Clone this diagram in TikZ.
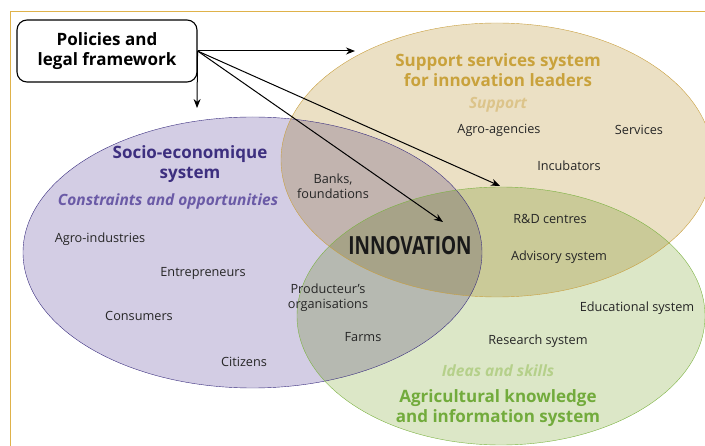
\documentclass[tikz,border=0pt]{standalone}
\usepackage{fontspec}
\setmainfont{Open Sans}
\newfontfamily\condfont{Open Sans}[FakeStretch=0.76]
\usetikzlibrary{arrows.meta}
\definecolor{framegold}{HTML}{DFB24A}
\definecolor{socfill}{HTML}{D3CDE4}
\definecolor{socline}{HTML}{3B2F80}
\definecolor{soctext}{HTML}{3D2F7F}
\definecolor{socsub}{HTML}{6A5AA6}
\definecolor{supfill}{HTML}{EBE0C4}
\definecolor{supline}{HTML}{C9A040}
\definecolor{suptext}{HTML}{C9A23C}
\definecolor{supsub}{HTML}{DCC48A}
\definecolor{akisfill}{HTML}{DCE7C7}
\definecolor{akisline}{HTML}{7CB342}
\definecolor{akistext}{HTML}{72AB3C}
\definecolor{akissub}{HTML}{B5D08A}
\tikzset{
  item/.style={font=\fontsize{12.7}{15}\selectfont,text=black!85,align=center},
  systitle/.style={font=\fontsize{17}{20.5}\selectfont\bfseries,align=center},
  syssub/.style={font=\fontsize{15.5}{18}\selectfont\bfseries\itshape},
}
\begin{document}
\begin{tikzpicture}[x=1pt,y=-1pt,>={Stealth[length=9pt,width=7pt]}]
            \useasboundingbox (0,0) rectangle (705,446);
            % frame
            \draw[framegold,line width=1pt](10,446)--(10,11.5)--(705,11.5);
            % the three systems
            \begin{scope}[blend group=multiply]
                \fill[socfill] (252.5,252.5) ellipse (229.5 and 135.5);
                \fill[supfill] (497,160) ellipse (216 and 137);
                \fill[akisfill] (501,316) ellipse (204 and 129);
            \end{scope}
            \draw[socline,thin] (252.5,252.5) ellipse (229.5 and 135.5);
            \draw[supline,thin] (497,160) ellipse (216 and 137);
            \draw[akisline,thin] (501,316) ellipse (204 and 129);
            % titles
            \node[systitle,text=suptext] (suptitle) at (498,70) {Support services system\\for innovation leaders};
            \node[syssub,text=supsub] (supsub) at (498,105) {Support};
            \node[systitle,text=soctext] (soctitle) at (190,164) {Socio-economique\\system};
            \node[syssub,text=socsub] (socsub) at (168,201) {Constraints and opportunities};
            \node[syssub,text=akissub] (akissub) at (498,371) {Ideas and skills};
            \node[systitle,text=akistext] (akistitle) at (498,408) {Agricultural knowledge\\and information system};
            % actors
            \node[item] (agroag) at (499,130) {Agro-agencies};
            \node[item] (serv) at (639,130) {Services};
            \node[item] (incub) at (569,166) {Incubators};
            \node[item] (banks) at (333,186) {Banks,\\foundations};
            \node[item] (agroind) at (100,239) {Agro-industries};
            \node[item] (entr) at (203,273) {Entrepreneurs};
            \node[item] (cons) at (139,316) {Consumers};
            \node[item] (citiz) at (244,362) {Citizens};
            \node[item] (rd) at (550,219) {R\&D centres};
            \node[item] (advis) at (559,257) {Advisory system};
            \node[item] (prod) at (328,298) {Producteur's\\organisations};
            \node[item] (farms) at (363,337) {Farms};
            \node[item] (educ) at (637,308) {Educational system};
            \node[item] (resea) at (538,341) {Research system};
            \node[font=\fontsize{25}{28}\selectfont\condfont\bfseries,text=black!90] (innov) at (410,246) {INNOVATION};
            % policies
            \node[draw,line width=1.1pt,rounded corners=10pt,minimum width=180pt,minimum height=62pt,
                font=\fontsize{17}{20.5}\selectfont\bfseries,align=center,inner sep=0pt] (pol) at (107,51) {Policies and\\legal framework};
            \coordinate (tosup) at (355,51);
            \coordinate (tosoc) at (197,108);
            \coordinate (toinn) at (443,222);
            \coordinate (toakis) at (500,186);
            \draw[->,line width=1pt](pol.east)--(tosup);
            \draw[->,line width=1pt](pol.east)--(tosoc);
            \draw[->,line width=1pt](pol.east)--(toinn);
            \draw[->,line width=1pt](pol.east)--(toakis);
        \end{tikzpicture}
\end{document}
